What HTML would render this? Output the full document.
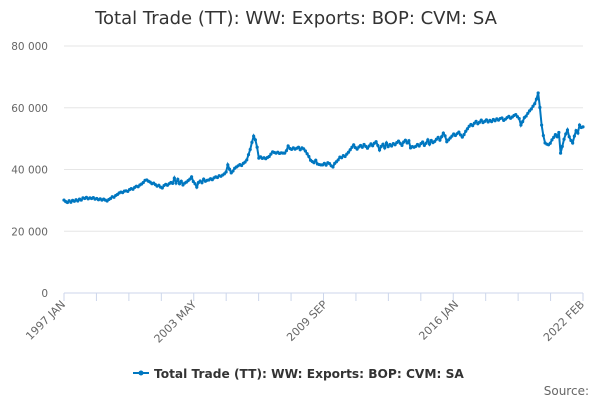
<!DOCTYPE html>
<html><head><meta charset="utf-8"><style>
html,body{margin:0;padding:0;background:#fff;}
svg{display:block;font-family:"DejaVu Sans","Liberation Sans",sans-serif;}
</style></head><body>
<svg id="chart" width="600" height="400">
<text x="296" y="24" text-anchor="middle" font-size="18" fill="#333">Total Trade (TT): WW: Exports: BOP: CVM: SA</text>
<g id="grid"></g><g id="xaxis"></g><g id="series"></g>
<g>
<line x1="133" y1="373" x2="149" y2="373" stroke="#0077c0" stroke-width="2"/>
<circle cx="141" cy="373" r="2.5" fill="#0077c0"/>
<text x="154" y="378" font-size="12.2" font-weight="bold" fill="#333">Total Trade (TT): WW: Exports: BOP: CVM: SA</text>
</g>
<text x="589" y="395" text-anchor="end" font-size="12" fill="#666">Source:</text>
</svg>
<script>
const yTicks=[0,20000,40000,60000,80000];
const yTickLabels=["0","20 000","40 000","60 000","80 000"];
const xLabelIdx=[0,76,152,228,301];
const xLabels=["1997 JAN","2003 MAY","2009 SEP","2016 JAN","2022 FEB"];
const values=[
30.1,29.6,29.3,29.9,29.4,30.0,29.7,30.2,29.8,30.4,30.1,30.8,
30.6,31.0,30.5,30.8,30.6,30.9,30.4,30.6,30.2,30.5,30.1,30.4,
30.1,29.8,30.3,30.6,31.2,31.0,31.6,31.9,32.4,32.7,32.5,33.0,
33.1,32.9,33.5,33.8,33.6,34.2,34.6,34.4,35.0,35.3,35.8,36.5,
36.6,36.2,35.9,35.4,35.6,35.1,34.6,34.9,34.3,34.0,34.8,35.2,
34.9,35.4,35.8,35.5,37.2,35.6,36.8,35.4,36.2,35.0,35.6,35.9,
36.4,36.9,37.6,36.1,35.4,34.3,35.8,36.3,35.7,36.9,36.2,36.5,
36.6,37.0,36.7,37.3,37.6,37.4,38.0,37.8,38.2,38.6,39.2,41.5,
40.1,38.9,39.5,40.4,40.8,41.2,41.6,41.3,42.0,42.4,43.1,44.8,
46.5,48.8,50.8,49.6,47.2,43.7,44.1,43.6,43.8,43.5,43.9,44.2,
45.0,45.7,45.5,45.3,45.6,45.2,45.4,45.3,45.3,46.1,47.6,46.8,
46.5,47.0,46.6,46.9,47.2,46.4,47.0,46.7,46.0,45.1,44.2,43.0,
42.6,42.2,43.0,41.8,41.6,41.5,41.5,42.0,41.4,42.2,41.9,41.2,
40.8,42.0,42.5,43.1,44.0,43.8,44.5,44.2,45.0,45.6,46.4,47.2,
48.0,47.1,46.6,47.3,47.8,47.2,48.1,47.5,46.9,47.6,48.3,47.7,
48.5,49.0,47.8,46.3,47.5,48.2,47.0,48.6,47.4,48.1,47.6,48.4,
48.0,48.7,49.2,48.5,47.8,48.9,49.5,48.6,49.3,47.0,47.4,47.2,
47.5,48.1,47.6,48.4,48.9,47.8,48.5,49.6,48.2,49.4,48.7,49.1,
49.8,50.4,49.5,50.6,51.8,50.9,49.0,49.6,50.2,50.8,51.5,51.0,
51.6,52.1,51.2,50.5,51.3,52.4,53.2,54.0,54.6,54.2,55.0,55.6,
54.8,55.3,56.0,55.2,55.6,56.1,55.4,55.9,55.5,56.2,55.8,56.4,
56.0,56.5,56.7,55.9,56.3,56.8,57.2,56.6,57.0,57.5,57.8,57.1,
56.5,54.4,55.5,56.8,57.3,58.2,59.0,59.6,60.5,61.3,62.8,64.8,
60.1,54.4,51.0,48.6,48.2,48.0,48.5,49.6,50.4,51.3,50.6,52.0,
45.3,47.5,49.8,51.5,52.8,50.6,49.4,48.6,50.8,52.6,51.8,54.4,
53.6,53.8];
const NS="http://www.w3.org/2000/svg";
const X0=64,X1=583,Y0=293,Y1=46;
const xs=i=>X0+i*(X1-X0)/(values.length-1);
const ys=v=>Y0-v*(Y0-Y1)/80000;
function mk(t,a,p){const e=document.createElementNS(NS,t);for(const k in a)e.setAttribute(k,a[k]);p.appendChild(e);return e;}
const grid=document.getElementById('grid');
yTicks.forEach((t,i)=>{
  const l=mk('line',{x1:X0,x2:X1,y1:ys(t),y2:ys(t),stroke:i?'#e6e6e6':'#ccd6eb'},grid);
  
  
  const tx=mk('text',{x:48,y:ys(t)+4,'text-anchor':'end','font-size':10.5,fill:'#666'},grid);
  tx.textContent=yTickLabels[i];
  
  
});
const xa=document.getElementById('xaxis');
for(let k=0;k<=16;k++){
  const x=X0+k*(X1-X0)/16;
  const t=mk('line',{x1:x,x2:x,y1:Y0,y2:Y0+8,stroke:'#ccd6eb'},xa);
  
  
}
xLabelIdx.forEach((m,i)=>{
  const x=xs(m)+2,y=Y0+12;
  const tx=mk('text',{x:x,y:y,'text-anchor':'end','font-size':11,fill:'#666',transform:`rotate(-45 ${x} ${y})`},xa);
  tx.textContent=xLabels[i];
  
  
});
const sg=document.getElementById('series');
const pts=values.map((v,i)=>xs(i).toFixed(2)+','+ys(v*1000).toFixed(2)).join(' ');
const pl=mk('polyline',{points:pts,fill:'none',stroke:'#0077c0','stroke-width':2},sg);


values.forEach((v,i)=>{
  const c=mk('circle',{cx:xs(i),cy:ys(v*1000),r:1.6,fill:'#0077c0'},sg);
  
  
});
</script>
</body></html>
